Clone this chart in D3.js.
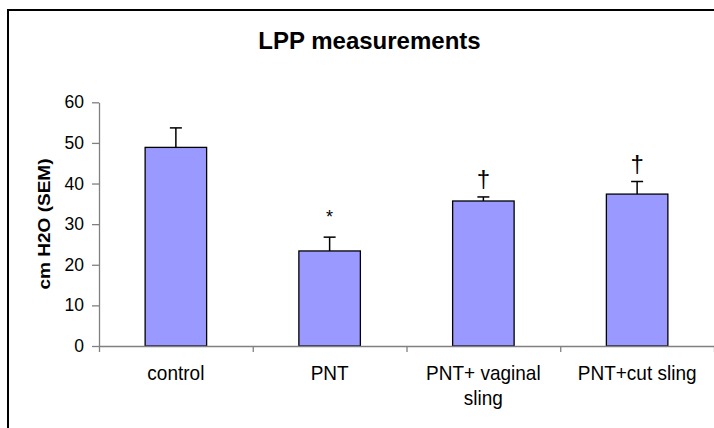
<!DOCTYPE html>
<html>
<head>
<meta charset="utf-8">
<script src="https://cdn.jsdelivr.net/npm/d3@7"></script>
<style>
  html, body { margin: 0; padding: 0; background: #fff; }
  svg { display: block; font-family: "Liberation Sans", Arial, sans-serif; }
</style>
</head>
<body>
<svg id="chart" width="714" height="428"></svg>
<script>
// ---- data ----
const categories = ["control", "PNT", "PNT+ vaginal sling", "PNT+cut sling"];
const means = [48.9, 23.4, 35.7, 37.4];
const sems = [4.8, 3.4, 1.0, 3.1];
const marks = ["", "*", "\u2020", "\u2020"];
const yTicks = [0, 10, 20, 30, 40, 50, 60];
const chartTitle = "LPP measurements";
const yTitle = "cm H2O (SEM)";

const svg = d3.select("#chart");

// frame (extends past the right and bottom edges)
svg.append("rect").attr("x", 8).attr("y", 10).attr("width", 720).attr("height", 430)
  .attr("fill", "none").attr("stroke", "#000").attr("stroke-width", 2);

const x0 = 99, x1 = 714, yTop = 102.3, yBot = 346;

const y = d3.scaleLinear().domain([0, 60]).range([yBot, yTop]);
const x = d3.scaleBand().domain(categories).range([x0, x1]).paddingInner(0.6).paddingOuter(0.3);
const xb = d3.scaleLinear().domain([0, categories.length]).range([x0, x1]);

// title
svg.append("text").attr("x", 369.5).attr("y", 49).attr("text-anchor", "middle")
  .attr("font-weight", "bold").attr("font-size", 24).attr("fill", "#000").text(chartTitle);

// y axis
const yAxis = svg.append("g").attr("transform", `translate(${x0},0)`)
  .call(d3.axisLeft(y).tickValues(yTicks).tickSize(7).tickPadding(8).tickSizeOuter(0));
yAxis.select(".domain").attr("stroke", "#808080").attr("stroke-width", 1.3);
yAxis.selectAll(".tick line").attr("stroke", "#808080").attr("stroke-width", 1.3);
yAxis.selectAll(".tick text").attr("font-size", 17.5).attr("fill", "#000")
  .attr("font-family", "'Liberation Sans', Arial, sans-serif");

// y title
svg.append("text")
  .attr("transform", `translate(50,224) scale(1,1.12) rotate(-90)`)
  .attr("text-anchor", "middle").attr("font-weight", "bold").attr("font-size", 17)
  .attr("fill", "#000").text(yTitle);

// bars
svg.append("g").selectAll("rect").data(categories).join("rect")
  .attr("x", d => x(d)).attr("width", x.bandwidth())
  .attr("y", (d, i) => y(means[i])).attr("height", (d, i) => y(0) - y(means[i]))
  .attr("fill", "#9999FF").attr("stroke", "#000").attr("stroke-width", 1.3);

// error bars
const eb = svg.append("g").attr("stroke", "#000").attr("stroke-width", 1.5);
categories.forEach((c, i) => {
  const cx = x(c) + x.bandwidth() / 2;
  eb.append("line").attr("x1", cx).attr("x2", cx)
    .attr("y1", y(means[i])).attr("y2", y(means[i] + sems[i]));
  eb.append("line").attr("x1", cx - 6).attr("x2", cx + 6)
    .attr("y1", y(means[i] + sems[i])).attr("y2", y(means[i] + sems[i]));
});

// significance marks
categories.forEach((c, i) => {
  if (!marks[i]) return;
  const cx = x(c) + x.bandwidth() / 2;
  const top = y(means[i] + sems[i]);
  const isStar = marks[i] === "*";
  svg.append("text").attr("x", cx).attr("y", top - (isStar ? 14 : 10))
    .attr("text-anchor", "middle").attr("font-size", isStar ? 18 : 24)
    .attr("fill", "#000").text(marks[i]);
});

// x axis
const xAxis = svg.append("g").attr("transform", `translate(0,${yBot})`)
  .call(d3.axisBottom(xb).tickValues(d3.range(categories.length + 1)).tickSize(6)
    .tickSizeOuter(0).tickFormat(""));
xAxis.select(".domain").attr("stroke", "#808080").attr("stroke-width", 1.3);
xAxis.selectAll(".tick line").attr("stroke", "#808080").attr("stroke-width", 1.3);

// category labels (wrapped)
function wrapWords(text, maxW, size) {
  const ctx = document.createElement("canvas").getContext("2d");
  ctx.font = `${size}px 'Liberation Sans', Arial, sans-serif`;
  const words = text.split(" ");
  const lines = [];
  let cur = "";
  words.forEach(w => {
    const t = cur ? cur + " " + w : w;
    if (ctx.measureText(t).width > maxW && cur) { lines.push(cur); cur = w; }
    else cur = t;
  });
  if (cur) lines.push(cur);
  return lines;
}
const lab = svg.append("g");
categories.forEach(c => {
  const cx = x(c) + x.bandwidth() / 2;
  const lines = wrapWords(c, 132, 19);
  const t = lab.append("text").attr("text-anchor", "middle").attr("font-size", 19)
    .attr("fill", "#000").attr("transform", `translate(${cx},380) scale(1,1.1)`);
  lines.forEach((l, k) => {
    t.append("tspan").attr("x", 0).attr("y", k * 22.5).text(l);
  });
});
</script>
</body>
</html>
